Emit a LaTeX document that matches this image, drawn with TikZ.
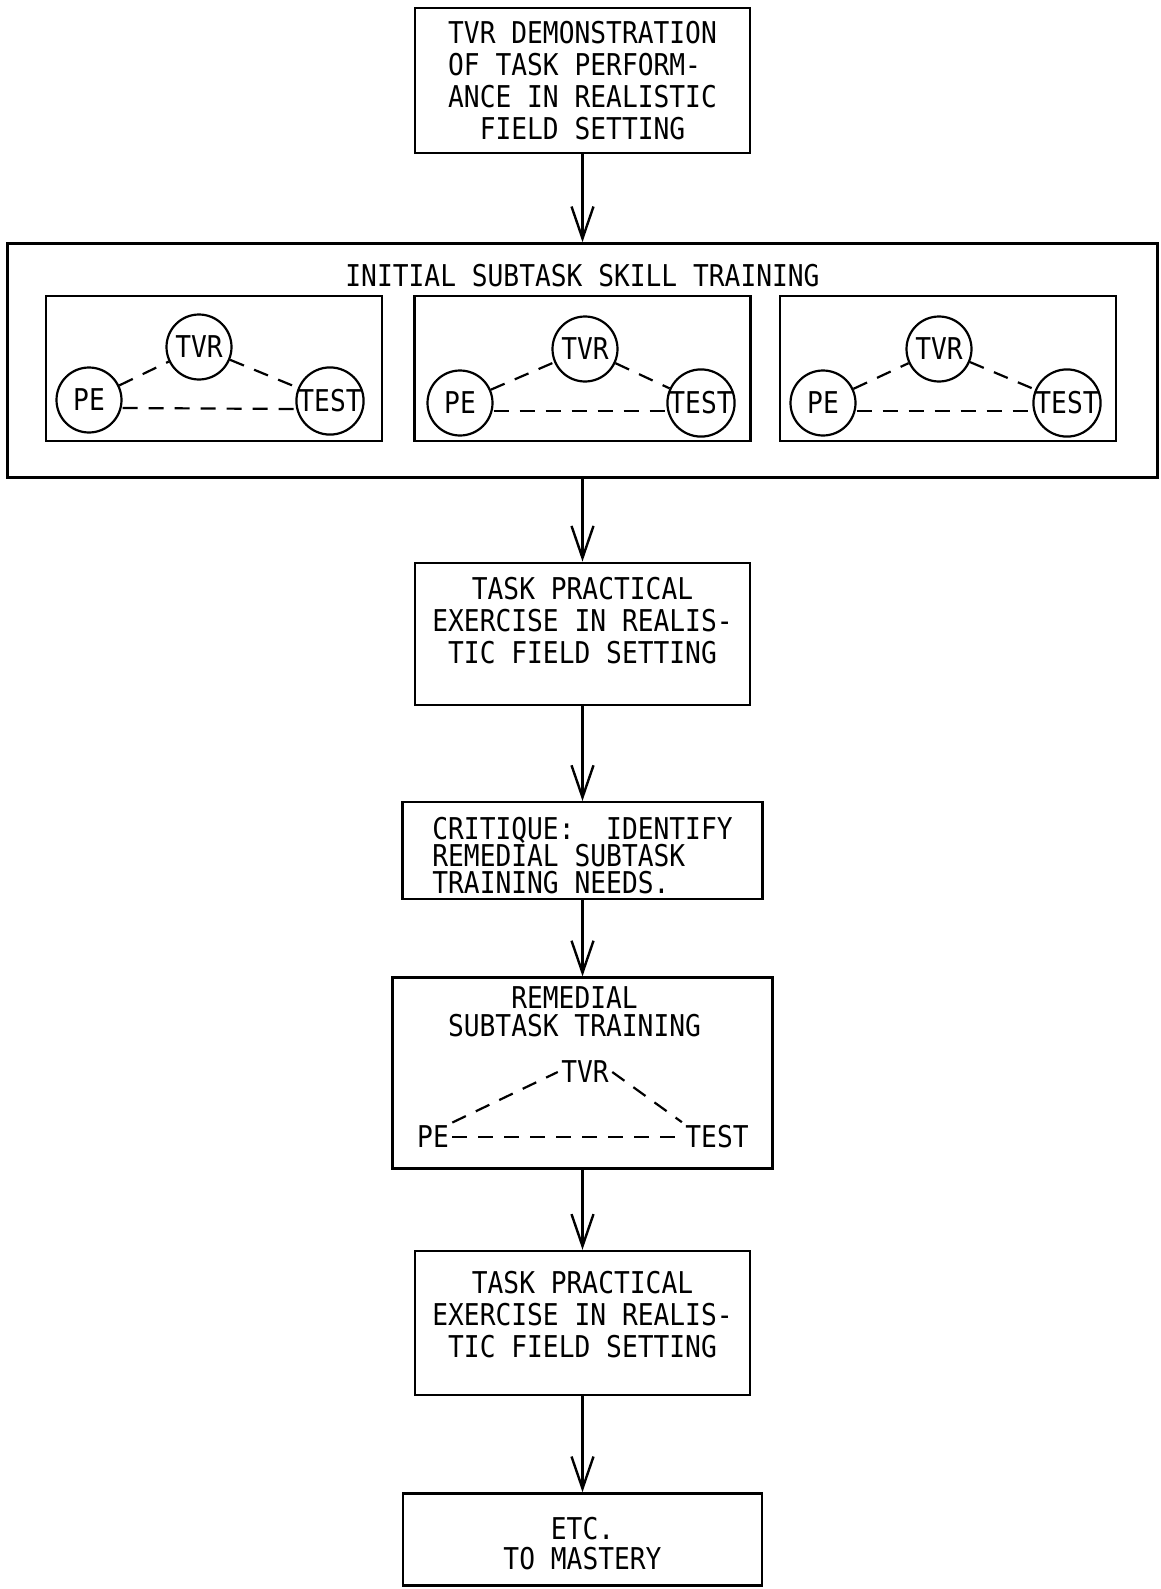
\documentclass[tikz,border=0pt]{standalone}
\usepackage{fontspec}
\setmainfont{DejaVu Sans Mono}[FakeStretch=0.875]
\usetikzlibrary{arrows.meta, positioning}

\begin{document}
\begin{tikzpicture}[
    x=1pt, y=1pt,
    font=\fontsize{30}{32}\selectfont,
    box/.style={rectangle, draw=black, line width=2.4pt, align=center, inner sep=0pt},
    subbox/.style={rectangle, draw=black, line width=2.2pt, minimum width=336pt, minimum height=145pt},
    ring/.style={circle, draw=black, line width=2.2pt, inner sep=0pt, minimum size=65pt},
    link/.style={draw, line width=2.2pt, dash pattern=on 15pt off 11pt},
    flow/.style={draw, line width=2.4pt, -{Straight Barb[length=32pt, width=22pt]}}
]
\path[fill=white, use as bounding box] (0,0) rectangle (1160,-1589);

% Main chain
\node[box, minimum width=335pt, minimum height=145pt, align=left] (demo) at (582.5,-80.5) {TVR DEMONSTRATION\\OF TASK PERFORM-\\ANCE IN REALISTIC\\\phantom{TV}FIELD SETTING};
\node[box, minimum width=1150pt, minimum height=234pt, below=88pt of demo] (initial) {};
\node (inittitle) at ([yshift=-33pt]initial.north) {INITIAL SUBTASK SKILL TRAINING};

% Subtask boxes
\node[subbox] (subA) at (214,-368.5) {};
\node[subbox] (subB) at (582.5,-368.5) {};
\node[subbox] (subC) at (948,-368.5) {};

\node[ring] (tvrA) at (199,-347) {TVR};
\node[ring] (peA) at (89,-400) {PE};
\node[ring] (testA) at (330,-401) {TEST};
\node[ring] (tvrB) at (585,-349) {TVR};
\node[ring] (peB) at (460,-403) {PE};
\node[ring] (testB) at (701,-403) {TEST};
\node[ring] (tvrC) at (939,-349) {TVR};
\node[ring] (peC) at (823,-403) {PE};
\node[ring] (testC) at (1067,-403) {TEST};

\foreach \s in {A,B,C} {
    \draw[link] (pe\s) -- (tvr\s);
    \draw[link] (tvr\s) -- (test\s);
    \draw[link] ([yshift=-8pt]pe\s.east) -- ([yshift=-8pt]test\s.west);
}

\node[box, minimum width=335pt, minimum height=142pt, below=83pt of initial, text depth=26pt] (task1) {TASK PRACTICAL\\EXERCISE IN REALIS-\\TIC FIELD SETTING};
\node[box, minimum width=360pt, minimum height=97pt, below=95pt of task1, align=left, font=\fontsize{30}{27}\selectfont] (critique) {\rule{0pt}{32pt}CRITIQUE:\ \ IDENTIFY\\REMEDIAL SUBTASK\\TRAINING NEEDS.};

% Remedial training
\node[box, minimum width=380pt, minimum height=191pt, below=76pt of critique] (remedial) {};
\node[font=\fontsize{30}{28}\selectfont, align=center] (remtitle) at ([xshift=-8pt, yshift=-35pt]remedial.north) {REMEDIAL\\SUBTASK TRAINING};
\node (rtvr) at (585,-1072) {TVR};
\node (rpe) at (433,-1137) {PE};
\node (rtest) at (717,-1137) {TEST};
\draw[link] (rpe.north east) -- (rtvr.west);
\draw[link] (rtvr.east) -- (rtest.north west);
\draw[link] (rpe.east) -- (rtest.west);

\node[box, minimum width=335pt, minimum height=144pt, below=80pt of remedial, text depth=18pt] (task2) {TASK PRACTICAL\\EXERCISE IN REALIS-\\TIC FIELD SETTING};
\node[box, minimum width=359pt, minimum height=92pt, below=96pt of task2, font=\fontsize{30}{30}\selectfont] (mastery) {\rule{0pt}{30pt}ETC.\\TO MASTERY};

% Arrows
\draw[flow] (demo) -- (initial);
\draw[flow] (initial) -- (task1);
\draw[flow] (task1) -- (critique);
\draw[flow] (critique) -- (remedial);
\draw[flow] (remedial) -- (task2);
\draw[flow] (task2) -- (mastery);

\end{tikzpicture}
\end{document}
